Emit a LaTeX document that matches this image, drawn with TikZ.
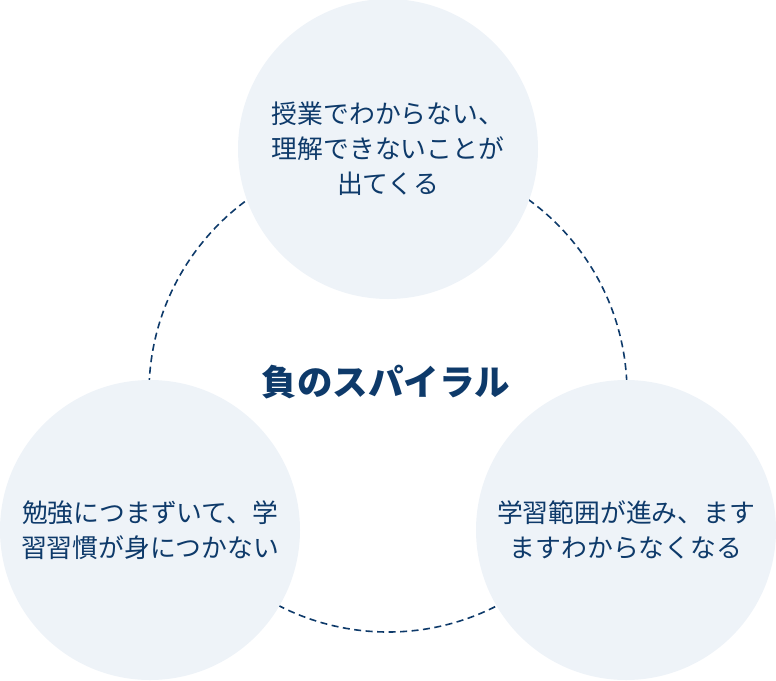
\documentclass[tikz,border=0pt]{standalone}
\usepackage{fontspec}
\newfontfamily\cjk{Noto Sans CJK JP}
\definecolor{navy}{HTML}{0E3A6A}
\definecolor{bubblefill}{HTML}{EEF3F8}
\tikzset{
	bubble/.style={circle, fill=bubblefill, minimum size=300pt, inner sep=0pt,
		align=center, text=navy, font=\cjk\fontsize{25.8}{35}\selectfont},
	ring/.style={navy, line width=1.6pt, dash pattern=on 7pt off 4.5pt}
}

\begin{document}
\begin{tikzpicture}[x=1pt,y=-1pt]
	\useasboundingbox (0,0) rectangle (776,680);
	% dashed ring behind the bubbles
	\coordinate (mid) at (388,393);
	\draw[ring] (mid) circle (239pt);
	\node[bubble] (top) at (388,149) {授業でわからない、\\理解できないことが\\出てくる};
	\node[bubble] (left) at (150,530) {勉強につまずいて、学\\習習慣が身につかない};
	\node[bubble] (right) at (626,530) {学習範囲が進み、ます\\ますわからなくなる};
	\node[text=navy, font=\cjk\bfseries\fontsize{35.5}{40}\selectfont] (title) at (386,382) {負のスパイラル};
\end{tikzpicture}
\end{document}
